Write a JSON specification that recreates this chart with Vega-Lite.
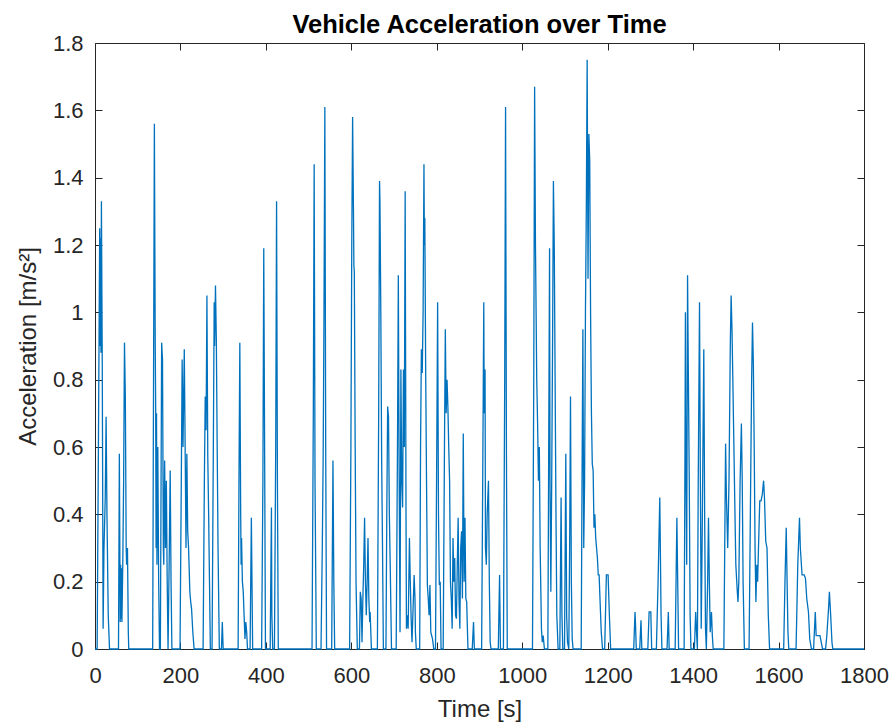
{
"$schema": "https://vega.github.io/schema/vega-lite/v6.json",
"width": 769,
"height": 606,
"autosize": {"type": "none"},
"padding": {"left": 95, "top": 43, "right": 31, "bottom": 78},
"background": "white",
"title": {"text": "Vehicle Acceleration over Time", "fontSize": 25.5, "fontWeight": "bold", "font": "Liberation Sans", "color": "#000000", "anchor": "middle", "baseline": "alphabetic", "offset": -26},
"data": {"values": [
{"t":0,"a":0},{"t":5,"a":0},{"t":8,"a":0.6},{"t":11,"a":1.25},{"t":12,"a":0.9},{"t":13,"a":1.22},{"t":14,"a":0.88},{"t":15,"a":1.33},{"t":17,"a":0.85},{"t":19,"a":0.06},{"t":21,"a":0.3},{"t":24,"a":0.45},{"t":26,"a":0.69},{"t":28,"a":0.4},{"t":31,"a":0.1},{"t":34,"a":0},
{"t":55,"a":0},{"t":57,"a":0.58},{"t":59,"a":0.08},{"t":60,"a":0.25},{"t":61,"a":0.09},{"t":62,"a":0.24},{"t":63,"a":0.08},{"t":65,"a":0.25},{"t":67,"a":0.5},{"t":69,"a":0.91},{"t":71,"a":0.75},{"t":73,"a":0.3},{"t":74,"a":0.25},{"t":76,"a":0.3},{"t":78,"a":0.05},{"t":79,"a":0},
{"t":135,"a":0},{"t":139,"a":1.56},{"t":141,"a":0.9},{"t":142,"a":0.72},{"t":143,"a":0.3},{"t":144,"a":0.7},{"t":145,"a":0.25},{"t":147,"a":0.6},{"t":149,"a":0.2},{"t":151,"a":0},
{"t":153,"a":0},{"t":156,"a":0.91},{"t":158,"a":0.86},{"t":160,"a":0.3},{"t":161,"a":0.25},{"t":163,"a":0.56},{"t":165,"a":0.3},{"t":167,"a":0.5},{"t":169,"a":0.2},{"t":171,"a":0},{"t":174,"a":0.3},{"t":176,"a":0.53},{"t":178,"a":0.2},{"t":180,"a":0},
{"t":199,"a":0},{"t":202,"a":0.5},{"t":204,"a":0.86},{"t":206,"a":0.6},{"t":207,"a":0.7},{"t":209,"a":0.89},{"t":211,"a":0.6},{"t":213,"a":0.3},{"t":215,"a":0.58},{"t":217,"a":0.35},{"t":219,"a":0.3},{"t":222,"a":0.17},{"t":224,"a":0.14},{"t":226,"a":0.12},{"t":229,"a":0.05},{"t":232,"a":0},
{"t":253,"a":0},{"t":256,"a":0.5},{"t":258,"a":0.75},{"t":260,"a":0.65},{"t":262,"a":1.05},{"t":264,"a":0.57},{"t":266,"a":0.4},{"t":268,"a":0.2},{"t":270,"a":0},
{"t":274,"a":0},{"t":277,"a":0.6},{"t":279,"a":1.03},{"t":280,"a":0.9},{"t":282,"a":1.08},{"t":284,"a":0.92},{"t":286,"a":0.6},{"t":288,"a":0.3},{"t":291,"a":0},
{"t":296,"a":0},{"t":298,"a":0.08},{"t":300,"a":0},
{"t":335,"a":0},{"t":337,"a":0.5},{"t":339,"a":0.91},{"t":341,"a":0.4},{"t":342,"a":0.25},{"t":343,"a":0.33},{"t":345,"a":0.2},{"t":347,"a":0.17},{"t":349,"a":0.1},{"t":351,"a":0.03},{"t":353,"a":0.08},{"t":355,"a":0.05},{"t":357,"a":0},
{"t":363,"a":0},{"t":366,"a":0.39},{"t":369,"a":0},
{"t":390,"a":0},{"t":393,"a":0.5},{"t":395,"a":1.19},{"t":397,"a":0.6},{"t":399,"a":0},
{"t":410,"a":0},{"t":413,"a":0.42},{"t":414,"a":0.1},{"t":416,"a":0},
{"t":420,"a":0},{"t":423,"a":0.6},{"t":425,"a":1.33},{"t":427,"a":0.5},{"t":429,"a":0},
{"t":508,"a":0},{"t":511,"a":0.7},{"t":513,"a":1.44},{"t":515,"a":0.5},{"t":518,"a":0},
{"t":529,"a":0},{"t":532,"a":0.3},{"t":534,"a":0.56},{"t":536,"a":1.0},{"t":538,"a":1.61},{"t":540,"a":0.6},{"t":542,"a":0},
{"t":554,"a":0},{"t":557,"a":0.56},{"t":559,"a":0.2},{"t":561,"a":0},
{"t":596,"a":0},{"t":599,"a":0.6},{"t":601,"a":1.2},{"t":603,"a":1.58},{"t":605,"a":1.3},{"t":606,"a":1.14},{"t":607,"a":1.12},{"t":609,"a":0.6},{"t":611,"a":0.2},{"t":614,"a":0},
{"t":619,"a":0},{"t":621,"a":0.17},{"t":623,"a":0.15},{"t":625,"a":0.02},{"t":627,"a":0.15},{"t":629,"a":0.25},{"t":631,"a":0.39},{"t":633,"a":0.2},{"t":635,"a":0.1},{"t":637,"a":0.2},{"t":639,"a":0.33},{"t":641,"a":0.15},{"t":643,"a":0.08},{"t":644,"a":0.11},{"t":647,"a":0},
{"t":661,"a":0},{"t":664,"a":0.7},{"t":666,"a":1.39},{"t":667,"a":1.33},{"t":669,"a":1.0},{"t":671,"a":0.56},{"t":673,"a":0.3},{"t":675,"a":0},
{"t":681,"a":0},{"t":683,"a":0.4},{"t":685,"a":0.72},{"t":687,"a":0.69},{"t":689,"a":0.4},{"t":691,"a":0.25},{"t":694,"a":0},
{"t":705,"a":0},{"t":708,"a":0.6},{"t":710,"a":1.11},{"t":712,"a":0.5},{"t":714,"a":0.05},{"t":716,"a":0.83},{"t":718,"a":0.5},{"t":720,"a":0.42},{"t":722,"a":0.83},{"t":724,"a":0.6},{"t":726,"a":1.36},{"t":728,"a":0.4},{"t":729,"a":0.06},{"t":731,"a":0.1},{"t":733,"a":0.06},{"t":736,"a":0.33},{"t":738,"a":0.2},{"t":740,"a":0.09},{"t":742,"a":0.02},{"t":744,"a":0.1},{"t":747,"a":0.22},{"t":749,"a":0.15},{"t":750,"a":0.05},{"t":752,"a":0},
{"t":760,"a":0},{"t":762,"a":0.6},{"t":764,"a":0.89},{"t":766,"a":0.82},{"t":768,"a":1.0},{"t":770,"a":1.44},{"t":771,"a":1.2},{"t":772,"a":1.28},{"t":774,"a":0.83},{"t":776,"a":0.5},{"t":778,"a":0.19},{"t":780,"a":0.15},{"t":782,"a":0.1},{"t":784,"a":0.19},{"t":786,"a":0.05},{"t":788,"a":0.04},{"t":790,"a":0.03},{"t":793,"a":0},
{"t":797,"a":0},{"t":800,"a":0.6},{"t":802,"a":1.03},{"t":804,"a":0.4},{"t":806,"a":0.19},{"t":808,"a":0.2},{"t":810,"a":0},
{"t":815,"a":0},{"t":818,"a":0.6},{"t":820,"a":0.95},{"t":822,"a":0.7},{"t":824,"a":0.8},{"t":826,"a":0.72},{"t":828,"a":0.6},{"t":830,"a":0.5},{"t":832,"a":0.2},{"t":834,"a":0.15},{"t":836,"a":0.06},{"t":838,"a":0.33},{"t":840,"a":0.2},{"t":842,"a":0.27},{"t":844,"a":0.1},{"t":846,"a":0.09},{"t":848,"a":0.25},{"t":850,"a":0.39},{"t":852,"a":0.15},{"t":854,"a":0.06},{"t":856,"a":0.3},{"t":858,"a":0.35},{"t":860,"a":0.15},{"t":862,"a":0.64},{"t":864,"a":0.2},{"t":866,"a":0.39},{"t":868,"a":0.15},{"t":870,"a":0.14},{"t":873,"a":0},
{"t":883,"a":0},{"t":886,"a":0.08},{"t":888,"a":0},
{"t":905,"a":0},{"t":908,"a":0.6},{"t":910,"a":1.03},{"t":911,"a":0.7},{"t":913,"a":0.83},{"t":914,"a":0.3},{"t":916,"a":0.25},{"t":918,"a":0.4},{"t":921,"a":0.5},{"t":923,"a":0.2},{"t":925,"a":0.02},{"t":927,"a":0},
{"t":944,"a":0},{"t":947,"a":0.22},{"t":949,"a":0},
{"t":956,"a":0},{"t":959,"a":0.8},{"t":961,"a":1.61},{"t":963,"a":0.6},{"t":965,"a":0},
{"t":1024,"a":0},{"t":1027,"a":0.8},{"t":1029,"a":1.67},{"t":1031,"a":1.2},{"t":1034,"a":0.8},{"t":1036,"a":0.67},{"t":1038,"a":0.5},{"t":1040,"a":0.6},{"t":1042,"a":0.3},{"t":1045,"a":0.06},{"t":1047,"a":0.02},{"t":1049,"a":0.04},{"t":1052,"a":0},
{"t":1060,"a":0},{"t":1062,"a":0.6},{"t":1064,"a":1.19},{"t":1065,"a":0.5},{"t":1067,"a":0.17},{"t":1069,"a":0.5},{"t":1071,"a":0.9},{"t":1073,"a":1.39},{"t":1075,"a":1.2},{"t":1077,"a":0.8},{"t":1079,"a":0.4},{"t":1081,"a":0.1},{"t":1084,"a":0},
{"t":1088,"a":0},{"t":1091,"a":0.45},{"t":1093,"a":0.1},{"t":1095,"a":0},
{"t":1099,"a":0},{"t":1102,"a":0.58},{"t":1104,"a":0.1},{"t":1106,"a":0.02},
{"t":1109,"a":0},{"t":1111,"a":0.3},{"t":1113,"a":0.75},{"t":1115,"a":0.2},{"t":1117,"a":0.03},{"t":1119,"a":0},
{"t":1138,"a":0},{"t":1140,"a":0.5},{"t":1142,"a":0.95},{"t":1144,"a":0.3},{"t":1146,"a":0.5},{"t":1148,"a":1.0},{"t":1150,"a":1.3},{"t":1152,"a":1.75},{"t":1154,"a":1.1},{"t":1156,"a":1.53},{"t":1158,"a":1.45},{"t":1160,"a":1.0},{"t":1162,"a":0.7},{"t":1164,"a":0.55},{"t":1166,"a":0.53},{"t":1168,"a":0.36},{"t":1170,"a":0.4},{"t":1172,"a":0.33},{"t":1174,"a":0.3},{"t":1176,"a":0.27},{"t":1178,"a":0.22},{"t":1180,"a":0.22},{"t":1182,"a":0.15},{"t":1185,"a":0.05},{"t":1188,"a":0},
{"t":1193,"a":0},{"t":1197,"a":0.22},{"t":1201,"a":0.22},{"t":1204,"a":0.1},{"t":1207,"a":0},
{"t":1261,"a":0},{"t":1264,"a":0.11},{"t":1265,"a":0.08},{"t":1267,"a":0},
{"t":1275,"a":0},{"t":1278,"a":0.085},{"t":1280,"a":0},
{"t":1294,"a":0},{"t":1297,"a":0.11},{"t":1299,"a":0.11},{"t":1301,"a":0.11},{"t":1303,"a":0},
{"t":1314,"a":0},{"t":1318,"a":0.2},{"t":1322,"a":0.45},{"t":1325,"a":0.1},{"t":1327,"a":0},
{"t":1339,"a":0},{"t":1342,"a":0.11},{"t":1344,"a":0},
{"t":1358,"a":0},{"t":1362,"a":0.39},{"t":1366,"a":0},
{"t":1379,"a":0},{"t":1381,"a":0.6},{"t":1382,"a":1.0},{"t":1383,"a":0.6},{"t":1385,"a":0.25},{"t":1387,"a":1.11},{"t":1389,"a":0.8},{"t":1391,"a":0.5},{"t":1393,"a":0.1},{"t":1395,"a":0},
{"t":1403,"a":0},{"t":1406,"a":0.11},{"t":1408,"a":0.05},{"t":1410,"a":0},{"t":1412,"a":0.5},{"t":1415,"a":1.03},{"t":1417,"a":0.5},{"t":1419,"a":0.06},{"t":1421,"a":0.3},{"t":1423,"a":0.6},{"t":1425,"a":0.89},{"t":1427,"a":0.4},{"t":1429,"a":0.06},{"t":1431,"a":0},{"t":1434,"a":0.2},{"t":1436,"a":0.39},{"t":1438,"a":0.2},{"t":1440,"a":0.05},{"t":1443,"a":0.11},{"t":1445,"a":0.04},{"t":1447,"a":0},
{"t":1472,"a":0},{"t":1474,"a":0.3},{"t":1476,"a":0.61},{"t":1478,"a":0.45},{"t":1481,"a":0.3},{"t":1484,"a":0.5},{"t":1487,"a":0.9},{"t":1489,"a":1.05},{"t":1491,"a":0.95},{"t":1493,"a":0.8},{"t":1495,"a":0.64},{"t":1498,"a":0.4},{"t":1500,"a":0.25},{"t":1503,"a":0.18},{"t":1505,"a":0.14},{"t":1507,"a":0.2},{"t":1510,"a":0.5},{"t":1513,"a":0.67},{"t":1515,"a":0.5},{"t":1517,"a":0.2},{"t":1520,"a":0},
{"t":1531,"a":0},{"t":1534,"a":0.4},{"t":1537,"a":0.8},{"t":1539,"a":0.97},{"t":1541,"a":0.85},{"t":1543,"a":0.6},{"t":1545,"a":0.3},{"t":1547,"a":0.14},{"t":1549,"a":0.25},{"t":1551,"a":0.2},{"t":1553,"a":0.3},{"t":1556,"a":0.44},{"t":1559,"a":0.44},{"t":1562,"a":0.46},{"t":1565,"a":0.5},{"t":1567,"a":0.45},{"t":1570,"a":0.32},{"t":1573,"a":0.3},{"t":1576,"a":0.1},{"t":1579,"a":0},
{"t":1612,"a":0},{"t":1615,"a":0.2},{"t":1618,"a":0.36},{"t":1620,"a":0.2},{"t":1622,"a":0.05},{"t":1624,"a":0},
{"t":1641,"a":0},{"t":1645,"a":0.25},{"t":1649,"a":0.39},{"t":1651,"a":0.3},{"t":1655,"a":0.22},{"t":1660,"a":0.22},{"t":1663,"a":0.21},{"t":1666,"a":0.15},{"t":1670,"a":0.11},{"t":1673,"a":0.03},{"t":1677,"a":0},
{"t":1682,"a":0},{"t":1686,"a":0.11},{"t":1688,"a":0.04},{"t":1691,"a":0.04},{"t":1697,"a":0.04},{"t":1700,"a":0.02},{"t":1703,"a":0},
{"t":1710,"a":0},{"t":1713,"a":0.04},{"t":1717,"a":0.12},{"t":1719,"a":0.17},{"t":1722,"a":0.1},{"t":1725,"a":0.02},{"t":1727,"a":0},{"t":1800,"a":0}
]},
"layer": [
{
"mark": {"type": "line", "color": "#0072BD", "strokeWidth": 1.3},
"encoding": {
"x": {"field": "t", "type": "quantitative", "scale": {"domain": [0, 1800], "nice": false, "zero": false},
"axis": {"orient": "bottom", "values": [0,200,400,600,800,1000,1200,1400,1600,1800], "format": "d", "title": "Time [s]", "labelFlush": false, "labelOverlap": false, "labelPadding": 23, "titlePadding": 11}},
"y": {"field": "a", "type": "quantitative", "scale": {"domain": [0, 1.8], "nice": false},
"axis": {"orient": "left", "values": [0,0.2,0.4,0.6,0.8,1,1.2,1.4,1.6,1.8], "format": "~g", "title": "Acceleration [m/s²]", "labelFlush": false, "labelOverlap": false, "labelPadding": 19, "titlePadding": 12}}
}
},
{
"mark": {"type": "line", "opacity": 0},
"encoding": {
"x": {"field": "t", "type": "quantitative", "scale": {"domain": [0, 1800], "nice": false, "zero": false},
"axis": {"orient": "top", "values": [0,200,400,600,800,1000,1200,1400,1600,1800], "labels": false, "title": null}},
"y": {"field": "a", "type": "quantitative", "scale": {"domain": [0, 1.8], "nice": false},
"axis": {"orient": "right", "values": [0,0.2,0.4,0.6,0.8,1,1.2,1.4,1.6,1.8], "labels": false, "title": null}}
}
}
],
"resolve": {"axis": {"x": "independent", "y": "independent"}},
"config": {
"view": {"stroke": null},
"axis": {"grid": false, "domainColor": "#262626", "domainWidth": 1, "tickColor": "#262626", "tickWidth": 1, "tickSize": -7, "labelColor": "#262626", "titleColor": "#262626", "labelFont": "Liberation Sans", "titleFont": "Liberation Sans", "labelFontSize": 22, "titleFontSize": 24, "titleFontWeight": "normal"}
}
}
